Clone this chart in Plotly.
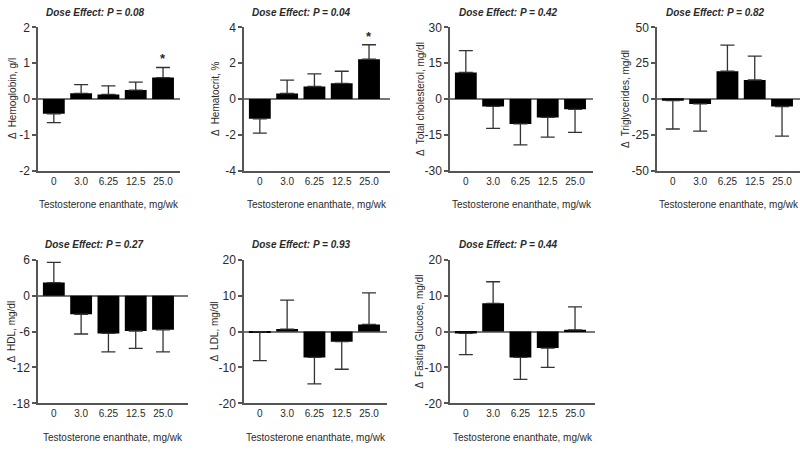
import plotly.graph_objects as go

doses = ["0", "3.0", "6.25", "12.5", "25.0"]

hemoglobin = [-0.41, 0.16, 0.13, 0.25, 0.60]
hemoglobin_err = [0.25, 0.24, 0.24, 0.22, 0.28]

hematocrit = [-1.10, 0.31, 0.70, 0.88, 2.22]
hematocrit_err = [0.80, 0.75, 0.71, 0.67, 0.81]

cholesterol = [11.1, -3.1, -10.4, -7.7, -4.3]
cholesterol_err = [9.2, 9.2, 8.8, 8.2, 9.6]

triglycerides = [-1.1, -3.4, 19.4, 13.3, -5.2]
triglycerides_err = [19.8, 18.9, 18.2, 16.7, 20.7]

hdl = [2.2, -3.1, -6.3, -5.9, -5.7]
hdl_err = [3.4, 3.3, 3.1, 2.9, 3.7]

ldl = [-0.1, 0.7, -7.2, -2.8, 2.0]
ldl_err = [8.0, 8.1, 7.4, 7.7, 8.8]

glucose = [-0.5, 7.9, -7.2, -4.6, 0.5]
glucose_err = [5.9, 6.0, 6.1, 5.4, 6.4]

p_values = ["0.08", "0.04", "0.42", "0.82", "0.27", "0.93", "0.44"]
y_titles = ["Δ  Hemoglobin, g/l", "Δ  Hematocrit, %", "Δ  Total cholesterol, mg/dl",
            "Δ  Triglycerides, mg/dl", "Δ  HDL, mg/dl", "Δ  LDL, mg/dl",
            "Δ  Fasting Glucose, mg/dl"]
x_title = "Testosterone enanthate, mg/wk"

y_ticks = [[-2, -1, 0, 1, 2], [-4, -2, 0, 2, 4], [-30, -15, 0, 15, 30],
           [-50, -25, 0, 25, 50], [-18, -12, -6, 0, 6], [-20, -10, 0, 10, 20],
           [-20, -10, 0, 10, 20]]

series = [hemoglobin, hematocrit, cholesterol, triglycerides, hdl, ldl, glucose]
errors = [hemoglobin_err, hematocrit_err, cholesterol_err, triglycerides_err,
          hdl_err, ldl_err, glucose_err]
stars = [True, True, False, False, False, False, False]

W, H = 800, 451
# pixel layout: (left, right, top, bottom)
boxes = [(38, 180, 21, 169), (244, 390, 21, 169), (450, 593, 21, 169), (657, 800, 21, 169),
         (38, 188, 261, 409), (244, 387, 261, 409), (450, 595, 261, 409)]
title_x = [95, 301, 508, 715, 94, 301, 508]
title_y = [6, 6, 6, 6, 245, 245, 245]
ytitle_x = [12, 215, 420, 625, 12, 215, 420]

FONT = "Liberation Sans, Arial, sans-serif"
TXT = "#2a2a2a"
AX = "#555555"

fig = go.Figure()
ann = []
CAT_PX = 27.3

for i in range(7):
    l, r, t, b = boxes[i]
    vals = series[i]
    errs = errors[i]
    up = [e if v >= 0 else 0 for v, e in zip(vals, errs)]
    dn = [e if v < 0 else 0 for v, e in zip(vals, errs)]
    xa = "x" if i == 0 else f"x{i+1}"
    ya = "y" if i == 0 else f"y{i+1}"
    fig.add_trace(go.Bar(
        x=list(range(5)), y=vals, width=0.8,
        marker=dict(color="black", line=dict(width=0)),
        error_y=dict(type="data", symmetric=False, array=up, arrayminus=dn,
                     color="#333333", thickness=1.3, width=7),
        xaxis=xa, yaxis=ya, showlegend=False, hoverinfo="skip"))
    x0 = -0.58
    x1 = x0 + (r - l) / CAT_PX
    tv = y_ticks[i]
    suffix = "" if i == 0 else str(i + 1)
    fig.layout["xaxis" + suffix] = dict(
        domain=[l / W, r / W], range=[x0, x1], anchor=ya,
        tickmode="array", tickvals=list(range(5)), ticktext=doses,
        showline=True, linecolor=AX, linewidth=1.5, ticks="", showgrid=False,
        zeroline=False, tickfont=dict(family=FONT, size=10, color=TXT),
        fixedrange=True)
    fig.layout["yaxis" + suffix] = dict(
        domain=[1 - b / H, 1 - t / H], range=[tv[0], tv[-1]], anchor=xa,
        tickmode="array", tickvals=tv, ticktext=[str(v) for v in tv],
        showline=True, linecolor=AX, linewidth=1.5, ticks="outside", ticklen=4,
        tickcolor=AX, tickwidth=1.5, showgrid=False,
        zeroline=True, zerolinecolor="#777777", zerolinewidth=1.5,
        tickfont=dict(family=FONT, size=12, color=TXT), fixedrange=True)
    ann.append(dict(text=f"<b><i>Dose Effect: P = {p_values[i]}</i></b>",
                    x=title_x[i] / W, y=1 - title_y[i] / H, xref="paper", yref="paper",
                    showarrow=False, xanchor="center", yanchor="middle",
                    font=dict(family=FONT, size=10, color=TXT)))
    ann.append(dict(text=y_titles[i], textangle=-90,
                    x=ytitle_x[i] / W, y=1 - ((t + b) / 2) / H, xref="paper", yref="paper",
                    showarrow=False, xanchor="center", yanchor="middle",
                    font=dict(family=FONT, size=10, color=TXT)))
    ann.append(dict(text=x_title, x=((l + r) / 2) / W, y=1 - (b + 35) / H,
                    xref="paper", yref="paper", showarrow=False,
                    xanchor="center", yanchor="middle",
                    font=dict(family=FONT, size=10, color=TXT)))
    if stars[i]:
        ann.append(dict(text="<b>*</b>", x=4, y=vals[4] + errs[4], xref=xa, yref=ya,
                        showarrow=False, xanchor="center", yanchor="bottom", yshift=-1,
                        font=dict(family=FONT, size=13, color=TXT)))

fig.update_layout(width=W, height=H, margin=dict(l=0, r=0, t=0, b=0),
                  paper_bgcolor="white", plot_bgcolor="white",
                  annotations=ann, bargap=0.2)

fig.write_html("out.html", config={"displayModeBar": False},
               post_script="document.body.style.margin='0';document.body.style.overflow='hidden';")
